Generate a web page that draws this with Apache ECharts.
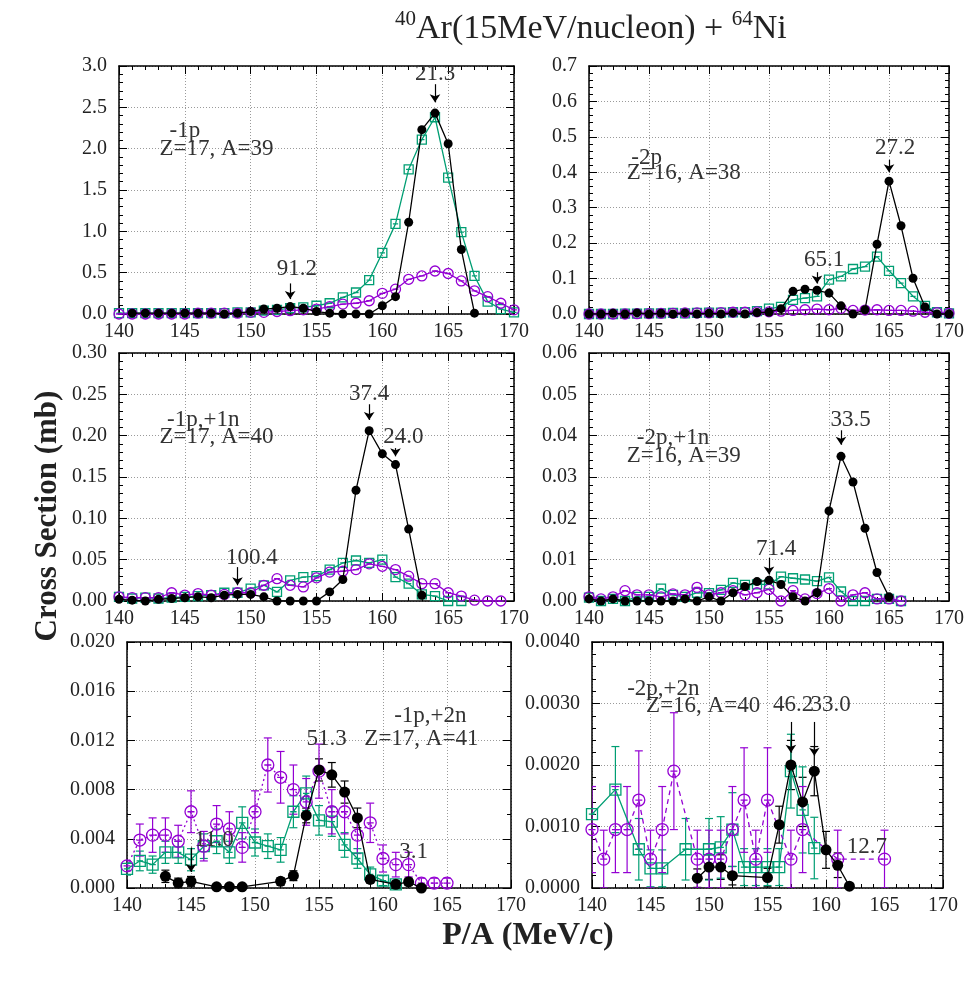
<!DOCTYPE html>
<html>
<head>
<meta charset="utf-8">
<script src="https://cdn.jsdelivr.net/npm/echarts@6/dist/echarts.min.js"></script>
<style>
  html, body { margin: 0; background: #fff; }
  #chart { width: 971px; height: 982px; }
</style>
</head>
<body>
<div id="chart"></div>
<script>
// P/A (MeV/c) bins, same for every panel
var pA = [140, 141, 142, 143, 144, 145, 146, 147, 148, 149, 150,
          151, 152, 153, 154, 155, 156, 157, 158, 159, 160,
          161, 162, 163, 164, 165, 166, 167, 168, 169, 170];

// -1p  Z=17, A=39
var p1Black  = [null, 0.01, 0.01, 0.01, 0.01, 0.01, 0.01, 0.01, 0.0, 0.01, 0.03,
                0.06, 0.07, 0.09, 0.07, 0.03, 0.01, 0.0, 0.0, 0.0, 0.10,
                0.21, 1.11, 2.23, 2.43, 2.06, 0.78, 0.01, null, null, null];
var p1Green  = [0.01, 0.01, 0.01, 0.01, 0.01, 0.01, 0.01, 0.01, 0.01, 0.02, 0.02,
                0.04, 0.05, 0.07, 0.08, 0.10, 0.13, 0.20, 0.26, 0.41, 0.74,
                1.09, 1.75, 2.11, 2.38, 1.65, 0.99, 0.46, 0.15, 0.06, 0.02];
var p1Purple = [0.0, 0.0, 0.0, 0.0, 0.0, 0.0, 0.01, 0.01, 0.01, 0.01, 0.02,
                0.02, 0.03, 0.04, 0.05, 0.06, 0.09, 0.12, 0.13, 0.16, 0.25,
                0.30, 0.42, 0.46, 0.52, 0.49, 0.40, 0.28, 0.21, 0.13, 0.05];
var p1Notes  = [[164, 2.9, '21.3'], [153.5, 0.55, '91.2'], [145, 2.22, '-1p'], [147.4, 2.0, 'Z=17, A=39']];
var p1Arrows = [[164, 2.78, 2.56], [153, 0.37, 0.18]];

// -2p  Z=16, A=38
var p2Black  = [0.0, 0.0, 0.002, 0.0, 0.003, 0.0, 0.002, 0.0, 0.003, 0.0, 0.002,
                0.0, 0.003, 0.0, 0.004, 0.005, 0.015, 0.064, 0.070, 0.067, 0.059,
                0.023, 0.0, 0.012, 0.197, 0.375, 0.249, 0.101, 0.020, 0.0, 0.0];
var p2Green  = [0.0, 0.0, 0.0, 0.001, 0.001, 0.002, 0.002, 0.003, 0.002, 0.003, 0.004,
                0.004, 0.005, 0.005, 0.008, 0.015, 0.020, 0.040, 0.045, 0.050, 0.097,
                0.106, 0.127, 0.134, 0.162, 0.122, 0.087, 0.050, 0.023, 0.005, 0.002];
var p2Purple = [0.0, 0.0, 0.0, 0.0, 0.001, 0.001, 0.002, 0.002, 0.003, 0.003, 0.003,
                0.004, 0.005, 0.005, 0.006, 0.006, 0.008, 0.010, 0.012, 0.014, 0.012,
                0.016, 0.010, 0.011, 0.012, 0.010, 0.010, 0.008, 0.005, 0.004, 0.002];
var p2Notes  = [[159.6, 0.153, '65.1'], [165.5, 0.47, '27.2'], [144.8, 0.44, '-2p'], [147.9, 0.397, 'Z=16, A=38']];
var p2Arrows = [[159, 0.118, 0.086], [165, 0.435, 0.40]];

// -1p,+1n  Z=17, A=40
var p3Black  = [0.002, 0.001, 0.0, 0.002, 0.003, 0.004, 0.005, 0.004, 0.007, 0.008, 0.008,
                0.005, 0.0, 0.0, 0.0, 0.0, 0.011, 0.026, 0.134, 0.206, 0.178,
                0.165, 0.087, 0.007, null, null, null, null, null, null, null];
var p3Green  = [0.005, 0.003, 0.004, 0.003, 0.004, 0.005, 0.006, 0.007, 0.010, 0.010, 0.015,
                0.019, 0.011, 0.025, 0.029, 0.030, 0.038, 0.046, 0.049, 0.046, 0.050,
                0.029, 0.021, 0.008, 0.006, 0.0, 0.0, null, null, null, null];
var p3Purple = [0.005, 0.004, 0.004, 0.004, 0.010, 0.007, 0.009, 0.007, 0.008, 0.010, 0.010,
                0.019, 0.027, 0.019, 0.017, 0.028, 0.035, 0.036, 0.038, 0.045, 0.042,
                0.038, 0.030, 0.021, 0.021, 0.010, 0.006, 0.001, 0.0, 0.0, null];
var p3Notes  = [[159, 0.25, '37.4'], [161.6, 0.199, '24.0'], [150.1, 0.052, '100.4'],
                [146.4, 0.219, '-1p,+1n'], [147.4, 0.198, 'Z=17, A=40']];
var p3Arrows = [[159, 0.238, 0.219], [161, 0.185, 0.175], [149, 0.041, 0.019]];

// -2p,+1n  Z=16, A=39
var p4Black  = [0.0005, 0.0, 0.0005, 0.0, 0.0, 0.0, 0.0, 0.0, 0.0005, 0.0, 0.001,
                0.0, 0.002, 0.0035, 0.0047, 0.005, 0.004, 0.001, 0.0, 0.002, 0.0218,
                0.035, 0.0288, 0.0176, 0.0069, 0.001, null, null, null, null, null];
var p4Green  = [0.0008, 0.0, 0.0005, 0.0, 0.001, 0.001, 0.003, 0.0015, 0.001, 0.002, 0.0019,
                0.0027, 0.0044, 0.0039, 0.004, 0.004, 0.0059, 0.0055, 0.0052, 0.0048, 0.0057,
                0.0023, 0.0, 0.0, 0.0005, 0.0005, 0.0, null, null, null, null];
var p4Purple = [0.001, 0.0005, 0.001, 0.0025, 0.0015, 0.0015, 0.001, 0.0017, 0.0015, 0.0033, 0.0015,
                0.002, 0.0025, 0.0015, 0.002, 0.0028, 0.0, 0.0025, 0.0005, 0.0018, 0.003,
                0.0, 0.0015, 0.002, 0.0005, 0.0005, 0.0, null, null, null, null];
var p4Notes  = [[155.6, 0.0125, '71.4'], [161.8, 0.0439, '33.5'], [147, 0.0394, '-2p,+1n'], [147.9, 0.035, 'Z=16, A=39']];
var p4Arrows = [[155, 0.0104, 0.0064], [161, 0.0413, 0.0378]];

// -1p,+2n  Z=17, A=41  (with error bars)
var p5Black     = [null, null, null, 0.00095, 0.0004, 0.00054, null, 0.0001, 0.0001, 0.0001, null,
                   null, 0.00054, 0.001, 0.0059, 0.0096, 0.0092, 0.0078, 0.0057, 0.0007, null,
                   0.0003, 0.0005, 0.0, null, null, null, null, null, null, null];
var p5BlackErr  = [null, null, null, 0.0005, 0.0004, 0.0004, null, 0.0001, 0.0001, 0.0001, null,
                   null, 0.0003, 0.0004, 0.0006, 0.0009, 0.001, 0.0009, 0.0008, 0.0003, null,
                   0.0002, 0.0003, 0.0, null, null, null, null, null, null, null];
var p5Green     = [0.00155, 0.0022, 0.0019, 0.0029, 0.0029, 0.0023, 0.0034, 0.0038, 0.0029, 0.0053, 0.0037,
                   0.0034, 0.0031, 0.0062, 0.0077, 0.0055, 0.0054, 0.0035, 0.0024, 0.0011, 0.0006,
                   0.0003, null, null, null, null, null, null, null, null, null];
var p5GreenErr  = [0.0005, 0.0008, 0.0007, 0.0009, 0.0009, 0.0009, 0.001, 0.001, 0.0009, 0.0013, 0.0011,
                   0.001, 0.001, 0.0013, 0.0014, 0.0012, 0.0012, 0.001, 0.0008, 0.0006, 0.0004,
                   0.0003, null, null, null, null, null, null, null, null, null];
var p5Purple    = [0.0018, 0.0039, 0.0043, 0.0043, 0.0038, 0.0062, 0.0034, 0.0052, 0.0048, 0.0033, 0.0062,
                   0.0100, 0.0090, 0.0080, 0.0070, 0.0095, 0.0062, 0.0062, 0.0043, 0.0053, 0.0024,
                   0.0019, 0.0019, 0.0004, 0.0004, 0.0004, null, null, null, null, null];
var p5PurpleErr = [0.0004, 0.0013, 0.0014, 0.0014, 0.0013, 0.0017, 0.0012, 0.0015, 0.0014, 0.0012, 0.0017,
                   0.0022, 0.0021, 0.002, 0.0019, 0.0022, 0.0018, 0.0018, 0.0015, 0.0016, 0.0011,
                   0.001, 0.001, 0.0004, 0.0004, 0.0004, null, null, null, null, null];
var p5Notes  = [[155.6, 0.0121, '51.3'], [162.4, 0.0029, '3.1'], [146.8, 0.0039, '11.0'],
                [163.7, 0.0140, '-1p,+2n'], [163.0, 0.0121, 'Z=17, A=41']];
var p5Arrows = [[145, 0.0033, 0.0013]];

// -2p,+2n  Z=16, A=40  (with error bars)
var p6Black     = [null, null, null, null, null, null, null, null, null, 0.00016, 0.00034,
                   0.00034, 0.0002, null, null, 0.00017, 0.00103, 0.002, 0.0014, 0.0019, 0.00062,
                   0.00037, 0.00003, null, null, null, null, null, null, null, null];
var p6BlackErr  = [null, null, null, null, null, null, null, null, null, 0.00015, 0.0002,
                   0.0002, 0.00015, null, null, 0.00015, 0.0003, 0.0004, 0.0004, 0.0004, 0.0003,
                   0.0002, 0.00003, null, null, null, null, null, null, null, null];
var p6Green     = [0.0012, null, 0.0016, null, 0.00063, 0.00032, 0.00032, null, 0.00063, null, 0.00063,
                   0.00066, 0.00095, 0.00034, 0.00034, 0.00034, 0.00034, 0.0019, 0.00127, 0.00065, null,
                   null, null, null, null, null, null, null, null, null, null];
var p6GreenErr  = [0, null, 0.0007, null, 0.0005, 0.0003, 0.0003, null, 0.0005, null, 0.0005,
                   0.0005, 0.0006, 0.0003, 0.0003, 0.0003, 0.0003, 0.0006, 0.0007, 0.0005, null,
                   null, null, null, null, null, null, null, null, null, null];
var p6Purple    = [0.00095, 0.00047, 0.00095, 0.00095, 0.00143, 0.00047, 0.00095, 0.0019, null, 0.00047, 0.00047,
                   0.00047, 0.00095, 0.00143, 0.00047, 0.00143, null, 0.00047, 0.00095, null, null,
                   0.00047, null, null, null, 0.00047, null, null, null, null, null];
var p6PurpleErr = [0.0007, 0.00047, 0.0007, 0.0007, 0.0008, 0.00047, 0.0007, 0.00095, null, 0.00047, 0.00047,
                   0.00047, 0.0007, 0.00085, 0.00047, 0.00085, null, 0.00047, 0.0007, null, null,
                   0.00047, null, null, null, 0.00047, null, null, null, null, null];
var p6Notes  = [[157.2, 0.00298, '46.2'], [160.4, 0.00298, '33.0'], [163.5, 0.00066, '12.7'],
                [146.1, 0.00324, '-2p,+2n'], [149.5, 0.00296, 'Z=16, A=40']];
var p6Arrows = [[157, 0.0027, 0.0022], [159, 0.0027, 0.00215]];

var SERIF = '"Liberation Serif", "DejaVu Serif", serif';
var BLACK = '#000000', GREEN = '#009e73', PURPLE = '#9400d3';
var CIRCLE_MARK = 'path://M0,6A6,6,0,1,1,12,6A6,6,0,1,1,0,6ZM2.5,6L9.5,6';
var SQUARE_MARK = 'path://M0,0L12,0L12,12L0,12ZM2.5,6L9.5,6';

var panels = [
  { box: { left: 119, top: 66, width: 395, height: 248 }, yMax: 3.0, yStep: 0.5, dec: 1, minor: 5,
    black: p1Black, green: p1Green, purple: p1Purple, notes: p1Notes, arrows: p1Arrows },
  { box: { left: 589, top: 66, width: 360, height: 248 }, yMax: 0.7, yStep: 0.1, dec: 1, minor: 5,
    black: p2Black, green: p2Green, purple: p2Purple, notes: p2Notes, arrows: p2Arrows },
  { box: { left: 119, top: 353, width: 395, height: 248 }, yMax: 0.30, yStep: 0.05, dec: 2, minor: 5,
    black: p3Black, green: p3Green, purple: p3Purple, notes: p3Notes, arrows: p3Arrows },
  { box: { left: 589, top: 353, width: 360, height: 248 }, yMax: 0.06, yStep: 0.01, dec: 2, minor: 5,
    black: p4Black, green: p4Green, purple: p4Purple, notes: p4Notes, arrows: p4Arrows },
  { box: { left: 127, top: 642, width: 384, height: 246 }, yMax: 0.020, yStep: 0.004, dec: 3, minor: 2,
    black: p5Black, green: p5Green, purple: p5Purple, notes: p5Notes, arrows: p5Arrows,
    errs: [p5BlackErr, p5GreenErr, p5PurpleErr], purpleType: [2, 3], big: true },
  { box: { left: 592, top: 642, width: 351, height: 246 }, yMax: 0.0040, yStep: 0.0010, dec: 4, minor: 5,
    black: p6Black, green: p6Green, purple: p6Purple, notes: p6Notes, arrows: p6Arrows,
    errs: [p6BlackErr, p6GreenErr, p6PurpleErr], purpleType: [5, 4], big: true }
];

function pairs(ys) {
  var out = [];
  for (var k = 0; k < pA.length; k++) {
    if (ys[k] != null) out.push([pA[k], ys[k]]);
  }
  return out;
}

function errorBars(ys, errs) {
  var out = [];
  for (var k = 0; k < pA.length; k++) {
    if (ys[k] != null && errs[k]) out.push([pA[k], ys[k] - errs[k], ys[k] + errs[k]]);
  }
  return out;
}

var frame = { show: true, onZero: false, lineStyle: { color: '#000', width: 1.5 } };
var ticks = { show: true, inside: true, length: 8, lineStyle: { color: '#000', width: 1 } };
var grid = { show: true, lineStyle: { color: '#9a9a9a', type: [1, 2], width: 1 } };

var grids = [], xAxes = [], yAxes = [], series = [];

panels.forEach(function (p, i) {
  grids.push(Object.assign({ containLabel: false, outerBoundsMode: 'none' }, p.box));

  var labelFont = { fontFamily: SERIF, fontSize: 20, color: '#222' };
  xAxes.push({
    gridIndex: i, type: 'value', min: 140, max: 170, interval: 5,
    axisLine: frame, axisTick: ticks,
    minorTick: { show: true, splitNumber: 5, length: 4, lineStyle: { color: '#000' } },
    axisLabel: Object.assign({ margin: 8 }, labelFont),
    splitLine: grid
  });
  xAxes.push({
    gridIndex: i, type: 'value', position: 'top', min: 140, max: 170, interval: 5,
    axisLine: frame, axisTick: ticks,
    minorTick: { show: true, splitNumber: 5, length: 4, lineStyle: { color: '#000' } },
    axisLabel: { show: false }, splitLine: { show: false }
  });
  yAxes.push({
    gridIndex: i, type: 'value', min: 0, max: p.yMax, interval: p.yStep,
    axisLine: frame, axisTick: ticks,
    minorTick: { show: true, splitNumber: p.minor, length: 4, lineStyle: { color: '#000' } },
    axisLabel: Object.assign({
      margin: 12,
      formatter: (function (d) { return function (v) { return v.toFixed(d); }; })(p.dec)
    }, labelFont),
    splitLine: grid
  });
  yAxes.push({
    gridIndex: i, type: 'value', position: 'right', min: 0, max: p.yMax, interval: p.yStep,
    axisLine: frame, axisTick: ticks,
    minorTick: { show: true, splitNumber: p.minor, length: 4, lineStyle: { color: '#000' } },
    axisLabel: { show: false }, splitLine: { show: false }
  });

  var xi = 2 * i, yi = 2 * i;
  var size = p.big ? 12 : 10;

  if (p.errs) {
    [[p.black, p.errs[0], BLACK], [p.green, p.errs[1], GREEN], [p.purple, p.errs[2], PURPLE]].forEach(function (e) {
      var col = e[2];
      series.push({
        type: 'custom', xAxisIndex: xi, yAxisIndex: yi, silent: true, z: 2, clip: true,
        data: errorBars(e[0], e[1]),
        encode: { x: 0, y: [1, 2] },
        renderItem: function (params, api) {
          var lo = api.coord([api.value(0), api.value(1)]);
          var hi = api.coord([api.value(0), api.value(2)]);
          var st = { stroke: col, lineWidth: 1.2 };
          return {
            type: 'group', children: [
              { type: 'line', shape: { x1: lo[0], y1: lo[1], x2: hi[0], y2: hi[1] }, style: st },
              { type: 'line', shape: { x1: lo[0] - 4, y1: lo[1], x2: lo[0] + 4, y2: lo[1] }, style: st },
              { type: 'line', shape: { x1: hi[0] - 4, y1: hi[1], x2: hi[0] + 4, y2: hi[1] }, style: st }
            ]
          };
        }
      });
    });
  }

  series.push({
    name: 'green', type: 'line', xAxisIndex: xi, yAxisIndex: yi, data: pairs(p.green),
    symbol: SQUARE_MARK, symbolSize: size - 1, showAllSymbol: true, z: 3,
    itemStyle: { color: 'rgba(0,0,0,0)', borderColor: GREEN, borderWidth: 1.3 },
    lineStyle: { color: GREEN, width: 1.3 }
  });
  series.push({
    name: 'purple', type: 'line', xAxisIndex: xi, yAxisIndex: yi, data: pairs(p.purple),
    symbol: CIRCLE_MARK, symbolSize: size, showAllSymbol: true, z: 4,
    itemStyle: { color: 'rgba(0,0,0,0)', borderColor: PURPLE, borderWidth: 1.3 },
    lineStyle: { color: PURPLE, width: 1.3, type: p.purpleType || 'solid' }
  });
  series.push({
    name: 'black', type: 'line', xAxisIndex: xi, yAxisIndex: yi, data: pairs(p.black),
    symbol: 'circle', symbolSize: size - 1, showAllSymbol: true, z: 5,
    itemStyle: { color: BLACK },
    lineStyle: { color: BLACK, width: 1.3 },
    markLine: {
      silent: true, animation: false, symbol: ['none', 'arrow'], symbolSize: 8,
      lineStyle: { color: '#000', width: 1.2, type: 'solid' },
      label: { show: false },
      data: p.arrows.map(function (a) { return [{ coord: [a[0], a[1]] }, { coord: [a[0], a[2]] }]; })
    }
  });

  var notes = p.notes;
  series.push({
    type: 'custom', xAxisIndex: xi, yAxisIndex: yi, silent: true, z: 10, clip: false,
    data: notes.map(function (n) { return [n[0], n[1]]; }),
    renderItem: function (params, api) {
      var pt = api.coord([api.value(0), api.value(1)]);
      return {
        type: 'text', x: pt[0], y: pt[1],
        style: {
          text: notes[params.dataIndex][2], font: '23px ' + SERIF, fill: '#333',
          align: 'center', verticalAlign: 'middle', textAlign: 'center', textVerticalAlign: 'middle'
        }
      };
    }
  });
});

var chart = echarts.init(document.getElementById('chart'));
chart.setOption({
  backgroundColor: '#fff',
  animation: false,
  title: {
    text: '{s|40}{m|Ar(15MeV/nucleon) + }{s|64}{m|Ni}',
    left: 390, top: 4,
    textStyle: {
      fontWeight: 'normal',
      rich: {
        m: { fontFamily: SERIF, fontSize: 34, fontWeight: 'normal', color: '#222', lineHeight: 40 },
        s: { fontFamily: SERIF, fontSize: 21, fontWeight: 'normal', color: '#222', verticalAlign: 'top', lineHeight: 23 }
      }
    }
  },
  graphic: [
    {
      type: 'text', x: 48, y: 516, rotation: Math.PI / 2,
      style: {
        text: 'Cross Section (mb)', font: 'bold 31px ' + SERIF, fill: '#222',
        align: 'center', verticalAlign: 'middle', textAlign: 'center', textVerticalAlign: 'middle'
      }
    },
    {
      type: 'text', x: 528, y: 936,
      style: {
        text: 'P/A (MeV/c)', font: 'bold 32px ' + SERIF, fill: '#222',
        align: 'center', verticalAlign: 'middle', textAlign: 'center', textVerticalAlign: 'middle'
      }
    }
  ],
  grid: grids,
  xAxis: xAxes,
  yAxis: yAxes,
  series: series
});
</script>
</body>
</html>
